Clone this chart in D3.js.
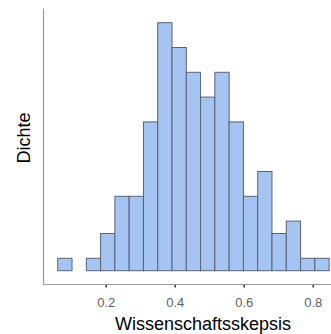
<!DOCTYPE html>
<html>
<head>
<meta charset="utf-8">
<script src="https://cdn.jsdelivr.net/npm/d3@7"></script>
<style>
  body { margin: 0; background: #fff; }
  svg { display: block; font-family: "Liberation Sans", Arial, sans-serif; }
</style>
</head>
<body>
<div id="chart"></div>
<script>
const BINSTART = 0.061;
const BINWIDTH = 0.0414;
const counts = [1, 0, 1, 3, 6, 6, 12, 20, 18, 16, 14, 16, 12, 6, 8, 3, 4, 1, 1];
const xTicks = [0.2, 0.4, 0.6, 0.8];

const total = d3.sum(counts);
const bins = counts.map((c, i) => ({
  x0: BINSTART + i * BINWIDTH,
  x1: BINSTART + (i + 1) * BINWIDTH,
  density: c / (total * BINWIDTH),
}));

const svg = d3
  .select("#chart")
  .append("svg")
  .attr("width", 331)
  .attr("height", 334);

const x = d3.scaleLinear().domain([0.2, 0.8]).range([105.7, 312.7]);
const maxDens = d3.max(bins, (d) => d.density);
const y = d3.scaleLinear().domain([0, maxDens]).range([270.7, 22.7]);

// axis lines
svg
  .append("line")
  .attr("x1", 43.5)
  .attr("x2", 43.5)
  .attr("y1", 8.5)
  .attr("y2", 284.5)
  .attr("stroke", "#999")
  .attr("stroke-width", 1.2);

const xAxis = svg
  .append("g")
  .attr("transform", "translate(0, 284.5)")
  .call(d3.axisBottom(x).tickValues(xTicks).tickSize(3).tickSizeOuter(0).tickFormat(d3.format(".1f")));

xAxis.select(".domain").remove();
xAxis
  .append("line")
  .attr("x1", 43)
  .attr("x2", 331)
  .attr("stroke", "#999")
  .attr("stroke-width", 1.2);
xAxis.selectAll(".tick line").attr("stroke", "#333").attr("stroke-width", 1.5);
xAxis
  .selectAll(".tick text")
  .attr("fill", "#5e5e5e")
  .attr("font-size", "13px")
  .attr("dy", null)
  .attr("y", 22);

// bars
svg
  .append("g")
  .selectAll("rect")
  .data(bins.filter((d) => d.density > 0))
  .join("rect")
  .attr("x", (d) => x(d.x0))
  .attr("width", (d) => x(d.x1) - x(d.x0))
  .attr("y", (d) => y(d.density))
  .attr("height", (d) => y(0) - y(d.density))
  .attr("fill", "#a6c4f1")
  .attr("stroke", "#5a6270")
  .attr("stroke-width", 1);

// labels
svg
  .append("text")
  .attr("x", 203)
  .attr("y", 330)
  .attr("text-anchor", "middle")
  .attr("font-size", "18px")
  .attr("fill", "#000")
  .text("Wissenschaftsskepsis");

svg
  .append("text")
  .attr("transform", "translate(29.5, 138) rotate(-90)")
  .attr("text-anchor", "middle")
  .attr("font-size", "18px")
  .attr("fill", "#000")
  .text("Dichte");
</script>
</body>
</html>
